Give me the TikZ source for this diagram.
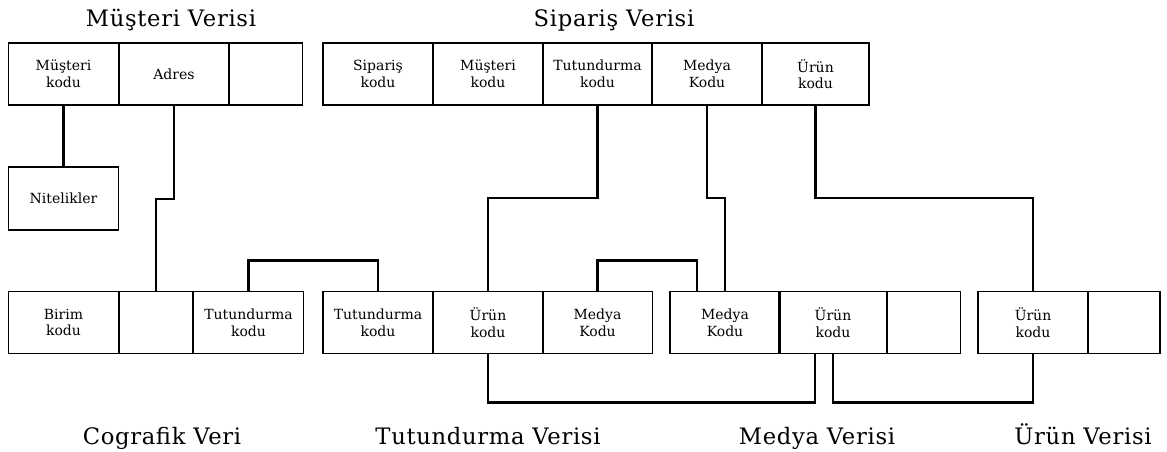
\documentclass[tikz,border=0pt]{standalone}
\usepackage{fontspec}
\setmainfont{DejaVu Serif}
\newfontfamily\titlefont{DejaVu Serif}[LetterSpace=3]
\usetikzlibrary{calc}

\begin{document}
\begin{tikzpicture}[x=0.75pt, y=-0.75pt,
    field/.style={draw, line width=0.9pt, inner sep=0pt, outer sep=0pt, minimum width=82.5pt, minimum height=46.5pt, align=center, font=\fontsize{10.5}{12.5}\selectfont},
    narrow/.style={field, minimum width=55pt},
    link/.style={line width=2pt, line join=miter},
    title/.style={anchor=base, font=\titlefont\fontsize{17}{20}\selectfont}]
      \useasboundingbox (0,0) rectangle (1167,452);

      % tables on top
      \node[title] (tmus) at (171,27) {Müşteri Verisi};
      \node[title] (tsip) at (614,27) {Sipariş Verisi};

      \node[field] (mkodu) at (63.5,74) {Müşteri\\kodu};
      \node[field] (adres) at (174,74) {Adres};
      \node[narrow] (mbos) at (266,74) {};
      \node[field, minimum height=47.25pt] (nitelik) at (63.5,198.5) {Nitelikler};

      \node[field] (skodu) at (378,74) {Sipariş\\kodu};
      \node[field] (smkodu) at (488,74) {Müşteri\\kodu};
      \node[field] (stkodu) at (597.5,74) {Tutundurma\\kodu};
      \node[field] (smedya) at (707,74) {Medya\\Kodu};
      \node[field, minimum width=80.25pt] (surun) at (815.5,74) {Ürün\\kodu};

      % tables below
      \node[field] (birim) at (63.5,322.5) {Birim\\kodu};
      \node[narrow] (cbos) at (156,322.5) {};
      \node[field] (ctkodu) at (248.5,322.5) {Tutundurma\\kodu};

      \node[field] (ttkodu) at (378,322.5) {Tutundurma\\kodu};
      \node[field] (turun) at (488,322.5) {Ürün\\kodu};
      \node[field] (tmedya) at (597.5,322.5) {Medya\\Kodu};

      \node[field] (mmedya) at (725,322.5) {Medya\\Kodu};
      \node[field, minimum width=81pt] (murun) at (833,322.5) {Ürün\\kodu};
      \node[narrow] (mbos2) at (923.5,322.5) {};

      \node[field] (uurun) at (1033,322.5) {Ürün\\kodu};
      \node[narrow, minimum width=54pt] (ubos) at (1124,322.5) {};

      \node[title] (tcog) at (162,444) {Cografik Veri};
      \node[title] (ttut) at (488,444) {Tutundurma Verisi};
      \node[title] (tmed) at (817,444) {Medya Verisi};
      \node[title] (turu) at (1083,444) {Ürün Verisi};

      % keys between tables
      \draw[link] (mkodu.south) -- (nitelik.north);
      \draw[link] (adres.south) -- ++(0,94) -| (cbos.north);
      \draw[link] (ctkodu.north) -- ++(0,-31) -| (ttkodu.north);
      \draw[link] (stkodu.south) -- ++(0,93) -| (turun.north);
      \draw[link] (smedya.south) -- ++(0,93) -| (mmedya.north);
      \draw[link] (surun.south) -- ++(0,93) -| (uurun.north);
      \draw[link] (tmedya.north) -- ++(0,-31) -| ([xshift=-21pt]mmedya.north);
      \draw[link] (turun.south) -- ++(0,49) -| ([xshift=-13.5pt]murun.south);
      \draw[link] (murun.south) -- ++(0,49) -| (uurun.south);
    \end{tikzpicture}
\end{document}
